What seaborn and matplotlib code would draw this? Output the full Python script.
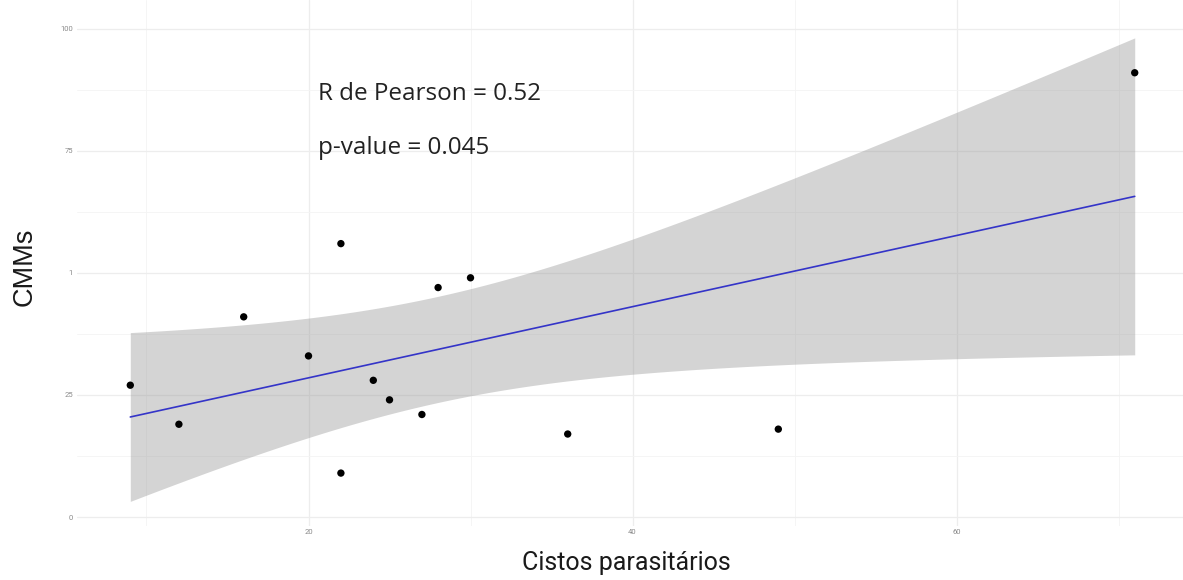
import numpy as np
import pandas as pd
import matplotlib
matplotlib.use("Agg")
import matplotlib.pyplot as plt
import seaborn as sns
from matplotlib.ticker import FixedLocator

# ---- data ----
cistos = [9, 12, 16, 20, 22, 22, 24, 25, 27, 28, 30, 36, 49, 71]
cmms = [27, 19, 41, 33, 56, 9, 28, 24, 21, 47, 49, 17, 18, 91]
y_ticks = [0, 25, 50, 75, 100]
y_tick_labels = ["0", "25", "1", "75", "100"]
x_ticks = [20, 40, 60]
x_tick_labels = ["20", "40", "60"]
annot_lines = ["R de Pearson = 0.52", "p-value = 0.045"]
x_title = "Cistos parasitários"
y_title = "CMMs"

df = pd.DataFrame({"cistos": cistos, "cmms": cmms})

sns.set_theme(style="white")
plt.rcParams["font.family"] = ["Roboto", "DejaVu Sans"]

W, H = 1183, 580
fig = plt.figure(figsize=(W / 100, H / 100), dpi=100)
left_px, bottom_px = 77, 526
ax = fig.add_axes([left_px / W, (H - bottom_px) / H, (W - left_px) / W, bottom_px / H])

# analytic 95% confidence band of the linear fit (as ggplot geom_smooth(method="lm"))
x = np.asarray(cistos, float)
y = np.asarray(cmms, float)
n = len(x)
slope, intercept = np.polyfit(x, y, 1)
xg = np.linspace(x.min(), x.max(), 200)
yg = intercept + slope * xg
resid = y - (intercept + slope * x)
s = np.sqrt(np.sum(resid ** 2) / (n - 2))
sxx = np.sum((x - x.mean()) ** 2)
t_crit = 2.1788  # t(0.975, df=12)
half = t_crit * s * np.sqrt(1 / n + (xg - x.mean()) ** 2 / sxx)
ax.fill_between(xg, yg - half, yg + half, color="#999999", alpha=0.42, linewidth=0, zorder=2)

sns.regplot(data=df, x="cistos", y="cmms", ax=ax, ci=None, truncate=True,
            scatter_kws=dict(s=28, color="#000000", alpha=1, edgecolor="none", zorder=4),
            line_kws=dict(color="#3434c8", linewidth=1.2, zorder=3))

ax.set_xlim(5.71, 73.98)
ax.set_ylim(-1.84, 105.9)

ax.xaxis.set_major_locator(FixedLocator(x_ticks))
ax.set_xticklabels(x_tick_labels)
ax.yaxis.set_major_locator(FixedLocator(y_ticks))
ax.set_yticklabels(y_tick_labels)
ax.xaxis.set_minor_locator(FixedLocator([10, 30, 50, 70]))
ax.yaxis.set_minor_locator(FixedLocator([12.5, 37.5, 62.5, 87.5]))

ax.grid(which="major", color="#ededed", linewidth=0.9, zorder=0)
ax.grid(which="minor", color="#f4f4f4", linewidth=0.6, zorder=0)
ax.set_axisbelow(True)
for sp in ax.spines.values():
    sp.set_visible(False)
ax.tick_params(axis="both", which="both", length=0, labelsize=5.5, labelcolor="#8a8a8a")
ax.tick_params(axis="y", pad=3)
ax.tick_params(axis="x", pad=2.5)
ax.set_xlabel("")
ax.set_ylabel("")

fig.text(626 / W, 1 - 563 / H, x_title, ha="center", va="center", fontsize=18, color="#1a1a1a")
fig.text(25 / W, 1 - 267 / H, y_title, ha="center", va="center", rotation=90, fontsize=19.5,
         color="#1a1a1a", family=["Liberation Sans", "DejaVu Sans"])

ax.text(20.6, 85.4, annot_lines[0], ha="left", va="baseline", fontsize=17.5,
        family=["Open Sans", "DejaVu Sans"], color="#222222", zorder=5)
ax.text(20.6, 74.4, annot_lines[1], ha="left", va="baseline", fontsize=17.5,
        family=["Open Sans", "DejaVu Sans"], color="#222222", zorder=5)

fig.savefig("out.png", dpi=100, facecolor="white")
